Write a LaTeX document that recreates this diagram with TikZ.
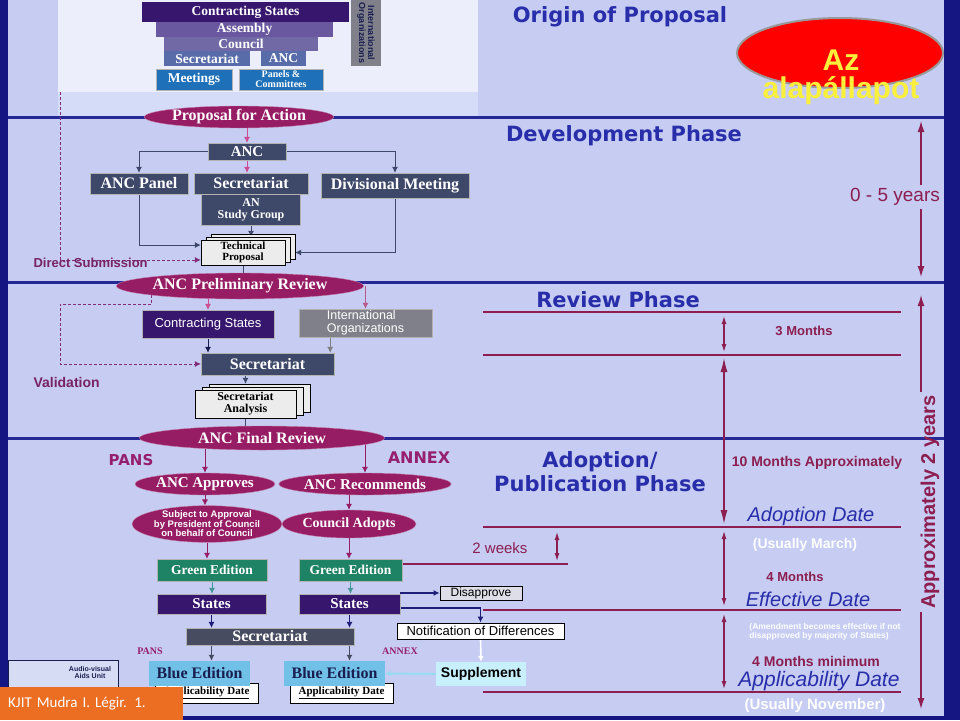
\documentclass[tikz,border=0pt]{standalone}
\usepackage{fontspec}
\setmainfont{Liberation Serif}
\setsansfont{Liberation Sans}
\newfontfamily\heavyfont{DejaVu Sans}
\newfontfamily\slidefont{Carlito}
\usepackage{xcolor}
\usepackage{tikz}
\usetikzlibrary{calc,backgrounds,shapes,positioning,shadows,arrows.meta}

\definecolor{bgblue}{RGB}{198,204,242}
\definecolor{panelc}{RGB}{236,238,251}
\definecolor{bandc}{RGB}{212,220,248}
\definecolor{framec}{RGB}{22,22,130}
\definecolor{phasec}{RGB}{38,40,150}
\definecolor{csc}{RGB}{55,22,110}
\definecolor{asmc}{RGB}{105,88,160}
\definecolor{cnlc}{RGB}{112,105,165}
\definecolor{secc}{RGB}{88,108,170}
\definecolor{meetc}{RGB}{30,112,185}
\definecolor{iogrey}{RGB}{128,128,138}
\definecolor{ovalc}{RGB}{150,28,100}
\definecolor{slate}{RGB}{62,72,105}
\definecolor{slatetwo}{RGB}{72,76,96}
\definecolor{paper}{RGB}{236,236,236}
\definecolor{greenc}{RGB}{30,130,100}
\definecolor{bluee}{RGB}{112,192,232}
\definecolor{suppc}{RGB}{200,240,252}
\definecolor{greyw}{RGB}{222,222,232}
\definecolor{tcol}{RGB}{140,30,80}
\definecolor{headc}{RGB}{40,45,170}
\definecolor{dashc}{RGB}{130,45,120}
\definecolor{pinkarr}{RGB}{205,75,145}
\definecolor{navy}{RGB}{25,30,80}
\definecolor{navyarr}{RGB}{30,30,120}
\definecolor{labelc}{RGB}{120,35,100}
\definecolor{pansc}{RGB}{150,30,110}
\definecolor{tealc}{RGB}{70,150,150}
\definecolor{kjitc}{RGB}{235,110,35}
\definecolor{yellowt}{RGB}{250,240,60}
\definecolor{avc}{RGB}{215,220,245}
\definecolor{cyanarr}{RGB}{150,220,240}

\newcommand{\fsz}[1]{\fontsize{#1}{#1}\selectfont}

\begin{document}
\begin{tikzpicture}[x=1pt, y=-1pt,
    box/.style 2 args = {rectangle, minimum width=#1, minimum height=#2, inner sep=0pt,
                         draw=white!70!black, text=white, align=center,
                         font=\bfseries\fsz{16}},
    oval/.style 2 args = {ellipse, minimum width=#1, minimum height=#2, inner sep=0pt,
                          fill=ovalc, draw=ovalc!55!white, text=white, align=center,
                          font=\bfseries\fsz{15}},
    docu/.style 2 args = {rectangle, minimum width=#1, minimum height=#2, inner sep=0pt,
                          fill=paper, draw=black, align=center, font=\bfseries\fsz{11}},
    pile/.style = {double copy shadow={shadow xshift=#1, shadow yshift=3pt, fill=paper, draw=black}},
    flag/.style 2 args = {rectangle, minimum width=#1, minimum height=#2, inner sep=0pt,
                          draw=black, thick, font=\sffamily\fsz{12}},
    flow/.style  = {draw=slate, thick, -{Latex[length=6pt, width=6pt]}},
    pflow/.style = {flow, draw=pinkarr},
    dflow/.style = {draw=dashc, thick, dash pattern=on 3pt off 2pt, -{Latex[length=6pt, width=6pt]}},
    tline/.style = {draw=tcol, line width=2.5pt},
    tspan/.style = {draw=tcol, line width=1.2pt, {Latex[length=8pt, width=5pt]}-{Latex[length=8pt, width=5pt]}},
    tup/.style   = {draw=tcol, line width=1.4pt, -{Latex[length=11pt, width=7pt]}},
    phasehd/.style = {font=\heavyfont\bfseries\fsz{21}, text=headc},
    tnote/.style   = {font=\sffamily\bfseries\fsz{13}, text=tcol},
    datelbl/.style = {font=\sffamily\itshape\fsz{20}, text=headc},
    sidelbl/.style = {font=\sffamily\bfseries\fsz{13}, text=labelc, anchor=west},
    whitenote/.style = {font=\sffamily\bfseries\fsz{14}, text=white}]

  \useasboundingbox (0,0) rectangle (960,720);
  %% Background, phase lines, time lines
  \begin{scope}[on background layer]
    \fill [bgblue] (0,0) rectangle (960,720);
    \fill [panelc] (58,0) rectangle (478,92);
    \fill [bandc] (58,92) rectangle (478,117);
    \foreach \y in {117,282,438}
      \draw [draw=phasec, line width=3pt] (8,\y) -- (944,\y);
    \foreach \y in {312,355,527,610,692}
      \draw [tline] (483,\y) -- (901,\y);
    \fill [framec] (0,0) rectangle (8,720);
    \fill [framec] (944,0) rectangle (960,720);
    \fill [framec] (0,716) rectangle (960,720);
  \end{scope}

  %% Origin of proposal
  \node [box={207}{20}, fill=csc, draw=none, font=\bfseries\fsz{13.5}] (cs) at (245.5,12) {Contracting States};
  \node [box={177}{15}, fill=asmc, draw=none, font=\bfseries\fsz{13.5}] (asm) at (244.5,29.5) {Assembly};
  \node [box={154}{14}, fill=cnlc, draw=none, font=\bfseries\fsz{13.5}] (cnl) at (241,44) {Council};
  \node [box={86}{15}, fill=secc, draw=none, font=\bfseries\fsz{13.5}] (osec) at (207,58.5) {Secretariat};
  \node [box={45}{15}, fill=secc, draw=none, font=\bfseries\fsz{13.5}] (oanc) at (283.5,58.5) {ANC};
  \node [box={76}{21}, fill=meetc, font=\bfseries\fsz{13.5}] (mtg) at (194,79.5) {Meetings};
  \node [box={84}{21}, fill=meetc, font=\bfseries\fsz{10}] (pnc) at (281,79.5) {Panels \&\\Committees};
  \node [box={66}{30}, fill=iogrey, draw=none, text=navy, rotate=-90,
         font=\sffamily\bfseries\fsz{9}] (oio) at (366,33) {International\\Organizations};
  \node [oval={182}{22}, font=\bfseries\fsz{16}] (pfa) at (239,117) {Proposal for Action};
  \coordinate (ds) at (60,92);

  %% Development phase
  \node [box={78}{17}, fill=slate, font=\bfseries\fsz{15}] (anc) at (247,151.5) {ANC};
  \node [box={98}{21}, fill=slate] (pnl) at (139,183.5) {ANC Panel};
  \node [box={114}{21}, fill=slate] (sec) at (251,183.5) {Secretariat};
  \node [box={99}{31}, fill=slate, font=\bfseries\fsz{12}, below=0pt of sec] (grp) {AN\\Study Group};
  \node [box={148}{25}, fill=slate] (div) at (395,185.5) {Divisional Meeting};
  \node [docu={84}{25}, pile=5pt] (tp) at (243,252.5) {Technical\\Proposal};
  \node [sidelbl] (dsub) at (30,263) {Direct Submission};

  %% Review phase
  \node [oval={244}{26}, font=\bfseries\fsz{16}] (pre) at (240,286) {ANC Preliminary Review};
  \node [box={132}{28}, fill=csc, font=\sffamily\fsz{13}] (csr) at (208,324) {Contracting States};
  \node [box={133}{28}, fill=iogrey, align=left, font=\sffamily\fsz{12.5}] (ior) at (365.5,323) {International\\Organizations};
  \node [box={133}{22}, fill=slate] (sr) at (267.5,364) {Secretariat};
  \node [docu={101}{28}, pile=7pt, font=\bfseries\fsz{12}] (sa) at (245.5,404) {Secretariat\\Analysis};
  \node [oval={245}{24}, font=\bfseries\fsz{16}] (fin) at (262,438) {ANC Final Review};
  \node [sidelbl, font=\sffamily\bfseries\fsz{14}] (val) at (30,382) {Validation};
  \coordinate (vl) at (60,364);
  \coordinate (io) at ($(sr.north east)+(-4,0)$);

  %% Adoption / publication phase
  \node [font=\heavyfont\bfseries\fsz{15}, text=pansc] (pans) at (131,460) {PANS};
  \node [font=\heavyfont\bfseries\fsz{16}, text=pansc] (annex) at (419,458) {ANNEX};
  \node [oval={140}{22}] (apr) at (205,484) {ANC Approves};
  \node [oval={164}{22}] (rec) at (365,484) {ANC Recommends};
  \node [oval={130}{35}, font=\sffamily\bfseries\fontsize{9.5}{9.5}\selectfont] (sub) at (207,524) {Subject to Approval\\by President of Council\\on behalf of Council};
  \node [oval={134}{28}, font=\bfseries\fsz{14}] (cad) at (349,524) {Council Adopts};
  \node [box={110}{22}, fill=greenc, font=\bfseries\fsz{13.5}] (ge1) at (212,570) {Green Edition};
  \node [box={103}{22}, fill=greenc, font=\bfseries\fsz{13.5}] (ge2) at (350.5,570) {Green Edition};
  \node [box={109}{20}, fill=csc, font=\bfseries\fsz{15}] (st1) at (211.5,604) {States};
  \node [box={101}{20}, fill=csc, font=\bfseries\fsz{15}] (st2) at (349.5,604) {States};
  \node [box={168}{17}, fill=slatetwo] (sec3) at (270,636.5) {Secretariat};
  \node [font=\bfseries\fsz{10}, text=pansc] (pans2) at (150,651) {PANS};
  \node [font=\bfseries\fsz{10}, text=pansc] (annex2) at (400,651) {ANNEX};
  \node [flag={103}{20}, fill=white, font=\bfseries\fsz{11}] (ad1) at (206.5,693) {\underline{Applicability Date}};
  \node [flag={103}{20}, fill=white, font=\bfseries\fsz{11}] (ad2) at (341.5,693) {\underline{Applicability Date}};
  \node [box={101}{25}, fill=bluee, draw=none, text=navy] (be1) at (199.5,673.5) {Blue Edition};
  \node [box={101}{25}, fill=bluee, draw=none, text=navy] (be2) at (334.5,673.5) {Blue Edition};
  \node [flag={82}{14}, fill=greyw] (dis) at (481,593) {Disapprove};
  \node [flag={167}{16}, fill=white, font=\sffamily\fsz{13}] (nod) at (480.5,631) {Notification of Differences};
  \node [box={90}{24}, fill=suppc, draw=none, text=black, font=\sffamily\bfseries\fsz{14}] (sup) at (481,674) {Supplement};

  %% Audio-visual logo and slide label
  \node [rectangle, minimum width=110, minimum height=46, fill=avc, draw=navy] (av) at (63,683) {};
  \node [font=\sffamily\bfseries\fsz{7}, text=navy, align=center] (avt) at (90,672) {Audio-visual\\Aids Unit};
  \node [rectangle, anchor=north west, minimum width=183, minimum height=33, inner xsep=8pt,
         text width=167, fill=kjitc, text=white, font=\slidefont\fsz{15}] (kjit) at (0,687) {KJIT Mudra I. Légir. 1.};

  %% Phase headings and the red note
  \node [phasehd] (org) at (620,17) {Origin of Proposal};
  \node [phasehd] (dev) at (624,136) {Development Phase};
  \node [phasehd] (rev) at (618,300) {Review Phase};
  \node [phasehd, align=center, font=\heavyfont\bfseries\fontsize{21}{24}\selectfont] (adp) at (600,472) {Adoption/\\Publication Phase};
  \node [ellipse, minimum width=206, minimum height=70, fill=red, draw=gray!80, line width=2pt] (azl) at (840,53) {};
  \node [align=center, text=yellowt, font=\sffamily\bfseries\fontsize{30}{28}\selectfont] (az) at (841,77) {Az\\alapállapot};

  %% Time scale
  \node [font=\sffamily\fsz{19}, text=tcol] (yrs) at (895,197) {0 - 5 years};
  \coordinate (top5) at (921,121);
  \coordinate (bot5) at (921,277);
  \node [font=\sffamily\bfseries\fsz{20}, text=tcol, rotate=90] (two) at (930,502) {Approximately 2 years};
  \coordinate (top2) at (921,295);
  \coordinate (bot2) at (921,709);
  \foreach \n/\y in {a/316, b/352, c/358, d/524, e/531, f/606, g/614, h/689}
    \coordinate (t\n) at (724,\y);
  \coordinate (w1) at (557,532);
  \coordinate (w2) at (557,561);
  \node [tnote] (m3) at (804,331) {3 Months};
  \node [tnote, font=\sffamily\bfseries\fsz{14}] (m10) at (817,463) {10 Months Approximately};
  \node [datelbl] (adate) at (811,516) {Adoption Date};
  \node [whitenote] (mar) at (805,545) {(Usually March)};
  \node [font=\sffamily\fsz{15}, text=tcol] (wk) at (500,548) {2 weeks};
  \node [tnote] (m4) at (795,577) {4 Months};
  \node [datelbl] (edate) at (808,599) {Effective Date};
  \node [font=\sffamily\bfseries\fsz{8.5}, text=white, align=left] (amd) at (825,632) {(Amendment becomes effective if not\\disapproved by majority of States)};
  \node [tnote, font=\sffamily\bfseries\fsz{14}] (m4m) at (816,661) {4 Months minimum};
  \node [datelbl, font=\sffamily\itshape\fsz{21}] (apdate) at (819,681) {Applicability Date};
  \node [whitenote, font=\sffamily\bfseries\fsz{15}] (nov) at (815,706) {(Usually November)};

  %% Connectors
  \begin{scope}[on background layer]
    \draw [dflow] (ds) |- (tp.190);
    \draw [pflow] (anc.north |- pfa.center) -- (anc.north);
    \draw [flow] (anc.west) -| (pnl.north);
    \draw [flow] (anc.east) -| (div.north);
    \draw [pflow] (anc.south) -- (anc.south |- sec.north);
    \draw [flow] (pnl.south) |- (tp.170);
    \draw [flow] (div.south) |- ($(tp.east)+(10,0)$);
    \draw [flow] (grp.south) -- ($(grp.south |- tp.north)+(0,-3)$);
    \draw [flow] (tp.south) -- (tp.south |- pre.center);
    \draw [dflow] (pre.186) -- ++(0,9) -| (vl) -- (sr.west);
    \draw [pflow] (csr.north |- pre.center) -- (csr.north);
    \draw [pflow, draw=pinkarr!70!gray] (ior.north |- pre.center) -- (ior.north);
    \draw [flow, draw=navy] (csr.south) -- (csr.south |- sr.north);
    \draw [flow, draw=gray] (io |- ior.south) -- (io);
    \draw [flow] (sa.north |- sr.south) -- ($(sa.north)+(0,-6)$);
    \draw [flow] (sa.south) -- (sa.south |- fin.center);
    \draw [pflow, draw=ovalc] (apr.north |- fin.center) -- (apr.north);
    \draw [pflow, draw=ovalc] (rec.north |- fin.center) -- (rec.north);
    \draw [pflow, draw=ovalc] (apr.south) -- (apr.south |- sub.north);
    \draw [pflow, draw=ovalc] (cad.north |- rec.center) -- (cad.north);
    \draw [pflow, draw=ovalc] (sub.south) -- (sub.south |- ge1.north);
    \draw [pflow, draw=ovalc] (cad.south) -- (cad.south |- ge2.north);
    \draw [flow, draw=tealc] (ge1.south) -- (ge1.south |- st1.north);
    \draw [flow, draw=tealc] (ge2.south) -- (ge2.south |- st2.north);
    \draw [flow, draw=navyarr] (st1.south) -- (st1.south |- sec3.north);
    \draw [flow, draw=navyarr] (st2.south) -- (st2.south |- sec3.north);
    \draw [flow, draw=slatetwo, line width=1.5pt] (st1.south |- sec3.south) -- (st1.south |- be1.north);
    \draw [flow, draw=slatetwo, line width=1.5pt] (st2.south |- sec3.south) -- (st2.south |- be2.north);
    \draw [flow, draw=navyarr, line width=1.6pt] (st2.east |- dis.west) -- (dis.west);
    \draw [flow, draw=navyarr, line width=1.6pt] ($(st2.east)+(0,4)$) -| (nod.north);
    \draw [flow, draw=white, line width=1.6pt] (nod.south) -- (sup.north);
    \draw [flow, draw=cyanarr, line width=2pt] (sup.west) -- (be2.east);
    \draw [tline] ($(ge2.east)+(0,-6)$) -- ++(166,0);
    \draw [tspan] (w1) -- (w2);
    \draw [tspan] (ta) -- (tb);
    \draw [tspan, {Latex[length=14pt, width=7pt]}-{Latex[length=14pt, width=7pt]}] (tc) -- (td);
    \draw [tspan] (te) -- (tf);
    \draw [tspan] (tg) -- (th);
    \draw [tup] (yrs.north -| top5) -- (top5);
    \draw [tup] (yrs.south -| bot5) -- (bot5);
    \draw [tup] (two.east -| top2) -- (top2);
    \draw [tup] (two.west -| bot2) -- (bot2);
  \end{scope}
\end{tikzpicture}
\end{document}
